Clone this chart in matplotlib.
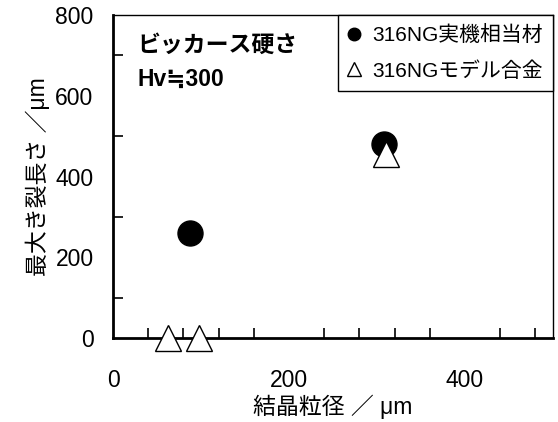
import numpy as np
import matplotlib.pyplot as plt
from matplotlib.ticker import MultipleLocator

plt.rcParams['font.family'] = ['Liberation Sans', 'Noto Sans CJK JP', 'DejaVu Sans']

# データ
real_x = [88, 308]
real_y = [260, 480]
model_x = [62, 98, 310]
model_y = [0, 0, 455]

fig = plt.figure(figsize=(5.58, 4.22), dpi=100)
ax = fig.add_axes([113/558, 1 - 338/422, 440/558, 323/422])

ax.plot(real_x, real_y, 'o', color='black', markersize=18, clip_on=False,
        label='316NG実機相当材', zorder=3)
ax.plot(model_x, model_y, '^', markerfacecolor='white', markeredgecolor='black',
        markeredgewidth=1.0, markersize=19, clip_on=False, label='316NGモデル合金',
        zorder=4)

ax.set_xlim(0, 500)
ax.set_ylim(0, 800)
ax.set_xticks([0, 200, 400])
ax.set_yticks([0, 200, 400, 600, 800])
ax.xaxis.set_minor_locator(MultipleLocator(40))
ax.yaxis.set_minor_locator(MultipleLocator(100))
ax.tick_params(which='both', direction='in', labelsize=16.5, width=1.2,
               top=False, right=False)
ax.tick_params(which='major', length=0)
ax.tick_params(which='minor', length=7)
ax.tick_params(axis='y', pad=14)
ax.tick_params(axis='x', pad=22)

for s in ['left', 'bottom']:
    ax.spines[s].set_linewidth(2.0)
for s in ['top', 'right']:
    ax.spines[s].set_linewidth(1.0)

ax.set_xlabel('結晶粒径 ／ μm', fontsize=16.5, labelpad=2)
ax.set_ylabel('最大き裂長さ ／μm', fontsize=16.5, labelpad=4)

ax.text(0.055, 0.905, 'ビッカース硬さ', transform=ax.transAxes, fontsize=16.5,
        fontweight='bold', va='center')
ax.text(0.055, 0.80, 'Hv≒300', transform=ax.transAxes, fontsize=16.5,
        fontweight='bold', va='center')

leg = ax.legend(loc='upper right', bbox_to_anchor=(1.0, 1.0), fontsize=15,
                markerscale=0.5, handlelength=0.6, handletextpad=0.55,
                borderpad=0.5, labelspacing=0.75, borderaxespad=0,
                fancybox=False, framealpha=1, edgecolor='black')
leg.get_frame().set_linewidth(1.0)

fig.savefig('out.png', dpi=100)
